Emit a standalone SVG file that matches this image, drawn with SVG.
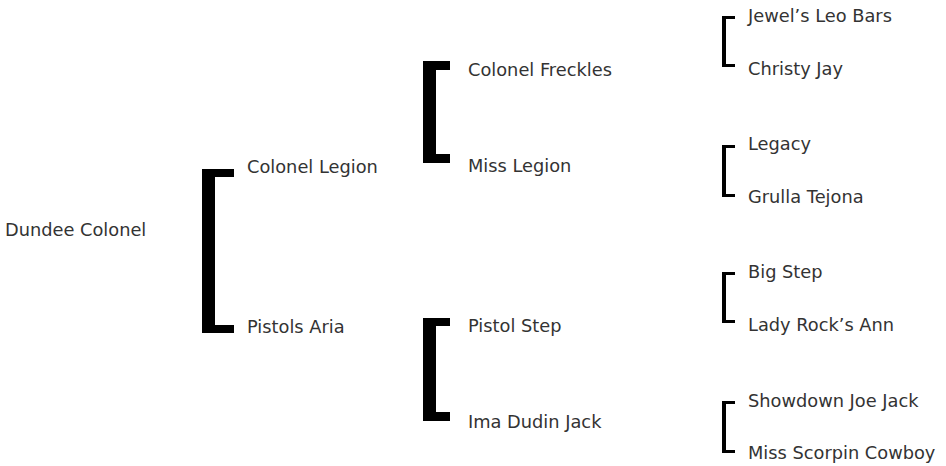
<svg xmlns="http://www.w3.org/2000/svg" width="946" height="466" viewBox="0 0 946 466">
<style>
text{font-family:"DejaVu Sans",Verdana,sans-serif;font-size:17.8px;fill:#333}
.br{fill:#000}
</style>
<rect width="946" height="466" fill="#fff"/>
<g id="connectors">
<path class="br" d="M202,169H234V177H215V325H234V333H202Z"/>
<path class="br" d="M423,61H450V70H436V154H450V163H423Z"/>
<path class="br" d="M423,318H450V326H436V412H450V421H423Z"/>
<path class="br" d="M722,16H735V19H726V64H735V67H722Z"/>
<path class="br" d="M722,145H735V148H726V194H735V197H722Z"/>
<path class="br" d="M722,272H735V275H726V320H735V323H722Z"/>
<path class="br" d="M722,401H735V404H726V450H735V453H722Z"/>
</g>
<g id="n-dundee-colonel"><text x="5" y="236">Dundee Colonel</text></g>
<g id="n-colonel-legion"><text x="247" y="172.5">Colonel Legion</text></g>
<g id="n-pistols-aria"><text x="247" y="332.5">Pistols Aria</text></g>
<g id="n-colonel-freckles"><text x="468" y="76">Colonel Freckles</text></g>
<g id="n-miss-legion"><text x="468" y="172">Miss Legion</text></g>
<g id="n-pistol-step"><text x="468" y="332">Pistol Step</text></g>
<g id="n-ima-dudin-jack"><text x="468" y="427.5">Ima Dudin Jack</text></g>
<g id="n-jewels-leo-bars"><text x="748" y="21.5">Jewel’s Leo Bars</text></g>
<g id="n-christy-jay"><text x="748" y="75">Christy Jay</text></g>
<g id="n-legacy"><text x="748" y="150">Legacy</text></g>
<g id="n-grulla-tejona"><text x="748" y="203">Grulla Tejona</text></g>
<g id="n-big-step"><text x="748" y="278">Big Step</text></g>
<g id="n-lady-rocks-ann"><text x="748" y="331">Lady Rock’s Ann</text></g>
<g id="n-showdown-joe-jack"><text x="748" y="406.5">Showdown Joe Jack</text></g>
<g id="n-miss-scorpin-cowboy"><text x="748" y="458.5">Miss Scorpin Cowboy</text></g>
</svg>
